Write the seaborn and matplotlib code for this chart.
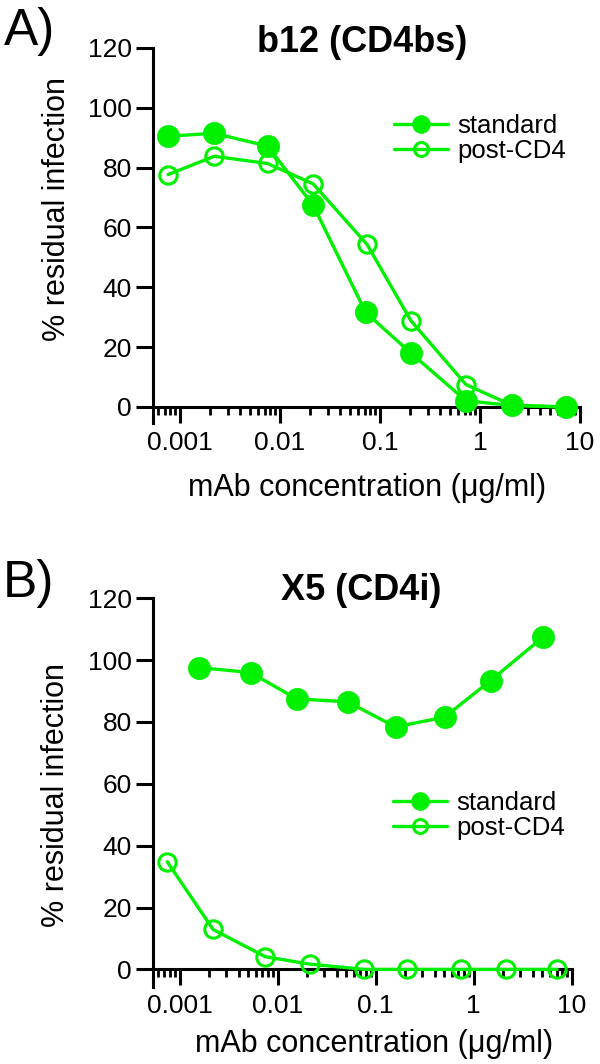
import numpy as np
import pandas as pd
import matplotlib
matplotlib.use("Agg")
import matplotlib.pyplot as plt
import matplotlib.ticker as mticker
import seaborn as sns

# concentrations (ug/ml) and % residual infection
conc_a_std = [0.00076, 0.0022, 0.0075, 0.0214, 0.072, 0.204, 0.724, 2.07, 7.2]
resid_a_std = [90.5, 91.5, 87.2, 67.5, 31.6, 18.0, 2.1, 0.5, 0.0]
conc_a_post = [0.00076, 0.0022, 0.0075, 0.0214, 0.074, 0.204, 0.724, 2.07, 7.2]
resid_a_post = [77.7, 83.8, 81.4, 74.6, 54.4, 28.8, 7.5, 0.6, 0.0]

conc_b_std = [0.00157, 0.0053, 0.0156, 0.052, 0.16, 0.506, 1.49, 5.12]
resid_b_std = [97.6, 96.0, 87.5, 86.5, 78.4, 81.6, 93.4, 107.5]
conc_b_post = [0.00075, 0.0022, 0.0075, 0.0213, 0.077, 0.208, 0.74, 2.15, 7.1]
resid_b_post = [34.8, 12.9, 4.1, 1.7, 0.0, 0.0, 0.0, 0.0, 0.0]

series_labels = ["standard", "post-CD4"]
panel_titles = ["b12 (CD4bs)", "X5 (CD4i)"]
panel_letters = ["A)", "B)"]
xtick_vals = [0.001, 0.01, 0.1, 1, 10]
xtick_labels = ["0.001", "0.01", "0.1", "1", "10"]
ytick_vals = [0, 20, 40, 60, 80, 100, 120]

GREEN = "#00f000"

sns.set_style("ticks")
plt.rcParams["font.family"] = ["Liberation Sans", "DejaVu Sans"]
plt.rcParams["axes.linewidth"] = 2.2
for key in ["text.color", "axes.labelcolor", "xtick.color", "ytick.color", "axes.edgecolor"]:
    plt.rcParams[key] = "black"

fig = plt.figure(figsize=(6.0, 10.64), dpi=100)

panels = [
    dict(left=153.3, right=580.0, top=48.0, bottom=423.0, ymin=-5.35,
         std=(conc_a_std, resid_a_std), post=(conc_a_post, resid_a_post),
         leg=(394, 114), ylab=(57, 209), xlab=(367, 488),
         title=(362, 43), letter=(4, 31)),
    dict(left=153.3, right=571.7, top=598.3, bottom=986.7, ymin=-5.6,
         std=(conc_b_std, resid_b_std), post=(conc_b_post, resid_b_post),
         leg=(393, 791), ylab=(56, 795), xlab=(374, 1044),
         title=(361, 590), letter=(3, 583)),
]

W, H = 600.0, 1064.0


def fx(px):
    return px / W


def fy(py):
    return 1 - py / H


for i, p in enumerate(panels):
    ax = fig.add_axes([fx(p["left"]), fy(p["bottom"]),
                       (p["right"] - p["left"]) / W, (p["bottom"] - p["top"]) / H])

    std = pd.DataFrame({"conc": p["std"][0], "resid": p["std"][1]})
    post = pd.DataFrame({"conc": p["post"][0], "resid": p["post"][1]})

    sns.lineplot(data=std, x="conc", y="resid", ax=ax, color=GREEN, linewidth=2.4,
                 marker="o", markersize=16, markerfacecolor=GREEN,
                 markeredgecolor=GREEN, markeredgewidth=0.5,
                 label=series_labels[0], clip_on=False, zorder=4)
    sns.lineplot(data=post, x="conc", y="resid", ax=ax, color=GREEN, linewidth=2.4,
                 marker="o", markersize=12.5, markerfacecolor="none",
                 markeredgecolor=GREEN, markeredgewidth=2.2,
                 label=series_labels[1], clip_on=False, zorder=3)

    ax.set_xscale("log")
    ax.set_xlim(5.4e-4, 10)
    ax.set_ylim(p["ymin"], 120)
    ax.set_xticks(xtick_vals)
    ax.set_xticklabels(xtick_labels)
    ax.xaxis.set_minor_locator(mticker.LogLocator(base=10, subs=np.arange(2, 10)))
    ax.xaxis.set_minor_formatter(mticker.NullFormatter())
    ax.set_yticks(ytick_vals)

    sns.despine(ax=ax)
    ax.spines["bottom"].set_position(("data", 0))
    ax.tick_params(axis="x", which="major", length=11.5, width=2.2, pad=6,
                   labelsize=19)
    ax.tick_params(axis="x", which="minor", length=6, width=2.0)
    ax.tick_params(axis="y", which="major", length=12.4, width=2.2, pad=3,
                   labelsize=19)
    ax.set_xlabel("")
    ax.set_ylabel("")

    lx, ly = p["leg"]
    ax_w = p["right"] - p["left"]
    ax_h = p["bottom"] - p["top"]
    ax.legend(loc="upper left",
              bbox_to_anchor=((lx - p["left"]) / ax_w, (p["bottom"] - ly) / ax_h),
              frameon=False, fontsize=18.5, borderpad=0, borderaxespad=0,
              handlelength=2.1, handletextpad=0.35, labelspacing=0.05,
              markerscale=0.8)

    fig.text(fx(p["ylab"][0]), fy(p["ylab"][1]), "% residual infection",
             rotation=90, ha="center", va="center", fontsize=22)
    fig.text(fx(p["xlab"][0]), fy(p["xlab"][1]), "mAb concentration (\u03bcg/ml)",
             ha="center", va="center", fontsize=22)
    fig.text(fx(p["title"][0]), fy(p["title"][1]), panel_titles[i],
             ha="center", va="center", fontsize=26, fontweight="bold")
    fig.text(fx(p["letter"][0]), fy(p["letter"][1]), panel_letters[i],
             ha="left", va="center", fontsize=37)

fig.savefig("out.png", dpi=100, facecolor="white")
